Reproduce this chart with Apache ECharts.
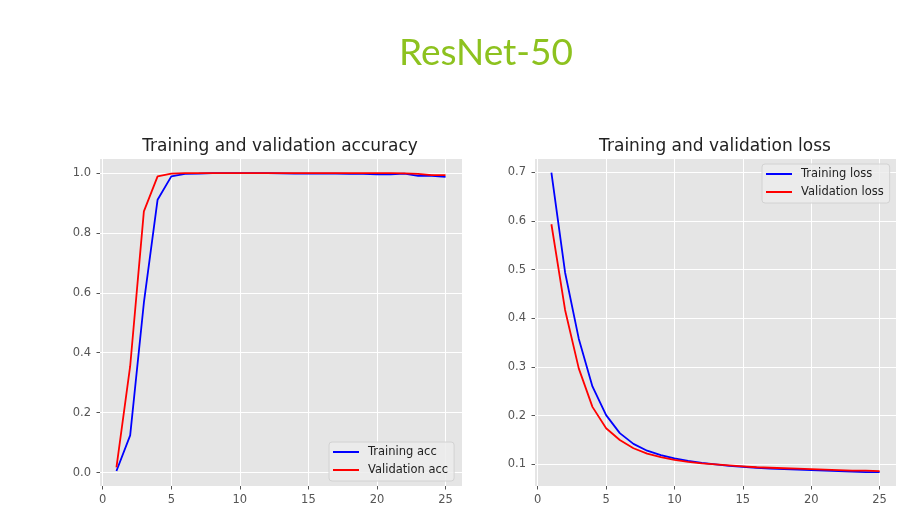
<!DOCTYPE html>
<html>
<head>
<meta charset="utf-8">
<script src="https://cdn.jsdelivr.net/npm/echarts@6/dist/echarts.min.js"></script>
<style>
  html, body { margin: 0; padding: 0; background: #fff; }
  #main { width: 923px; height: 513px; }
</style>
</head>
<body>
<div id="main"></div>
<script>
// epochs 1..25
var epochs = [1, 2, 3, 4, 5, 6, 7, 8, 9, 10, 11, 12, 13, 14, 15, 16, 17, 18, 19, 20, 21, 22, 23, 24, 25];
var trainAcc = [0.005, 0.124, 0.567, 0.911, 0.989, 0.997, 0.998, 1.0, 1.0, 1.0, 1.0, 1.0, 0.999, 0.998, 0.998,
  0.998, 0.998, 0.997, 0.997, 0.996, 0.996, 0.998, 0.991, 0.991, 0.987];
var valAcc = [0.017, 0.355, 0.872, 0.989, 0.998, 1.0, 1.0, 1.0, 1.0, 1.0, 1.0, 1.0, 1.0, 1.0, 1.0,
  1.0, 1.0, 1.0, 1.0, 1.0, 1.0, 0.999, 0.997, 0.993, 0.993];
var trainLoss = [0.699, 0.494, 0.358, 0.260, 0.201, 0.164, 0.142, 0.128, 0.119, 0.112, 0.107, 0.103, 0.100, 0.097, 0.095,
  0.093, 0.091, 0.090, 0.089, 0.088, 0.087, 0.086, 0.085, 0.084, 0.084];
var valLoss = [0.593, 0.417, 0.297, 0.218, 0.174, 0.150, 0.133, 0.122, 0.115, 0.109, 0.105, 0.102, 0.100, 0.098, 0.096,
  0.094, 0.093, 0.092, 0.091, 0.090, 0.089, 0.088, 0.087, 0.087, 0.086];
var xTicks = [0, 5, 10, 15, 20, 25];
var accTicks = [0.0, 0.2, 0.4, 0.6, 0.8, 1.0];
var lossTicks = [0.1, 0.2, 0.3, 0.4, 0.5, 0.6, 0.7];

var chart = echarts.init(document.getElementById('main'));

function pairs(ys) {
  return epochs.map(function (e, i) { return [e, ys[i]]; });
}

// matplotlib ggplot-like axes
function xAxis(idx) {
  return {
    type: 'value', gridIndex: idx, min: -0.2, max: 26.2,
    axisLine: { show: false, onZero: false },
    axisTick: { show: true, customValues: xTicks, length: 3.5, lineStyle: { color: '#555' } },
    axisLabel: { customValues: xTicks, color: '#555', fontSize: 11.5, fontFamily: 'DejaVu Sans', margin: 8 },
    splitLine: { show: true, lineStyle: { color: '#fff', width: 1 } }
  };
}
function yAxis(idx, min, max, ticks) {
  return {
    type: 'value', gridIndex: idx, min: min, max: max,
    axisLine: { show: false, onZero: false },
    axisTick: { show: true, customValues: ticks, length: 3.5, lineStyle: { color: '#555' } },
    axisLabel: {
      customValues: ticks, color: '#555', fontSize: 11.5, fontFamily: 'DejaVu Sans', margin: 9,
      formatter: function (v) { return v.toFixed(1); }
    },
    splitLine: { show: true, lineStyle: { color: '#fff', width: 1 } }
  };
}

var legendStyle = {
  orient: 'vertical', icon: 'rect', itemWidth: 26, itemHeight: 2, itemGap: 4,
  padding: [3, 6, 4, 4],
  backgroundColor: 'rgba(236,236,236,0.85)', borderColor: '#d2d2d2', borderWidth: 1, borderRadius: 3,
  textStyle: { color: '#222', fontSize: 11.5, lineHeight: 14, fontFamily: 'DejaVu Sans', padding: [0, 0, 0, 4] }
};

var option = {
  backgroundColor: '#fff',
  animation: false,
  title: [
    { text: 'ResNet-50', left: 481, top: 30, textAlign: 'center',
      textStyle: { color: '#8dc21f', fontSize: 37, fontWeight: 'normal', fontFamily: 'Lato' } },
    { text: 'Training and validation accuracy', left: 275, top: 133, textAlign: 'center',
      textStyle: { color: '#222', fontSize: 17, fontWeight: 'normal', fontFamily: 'DejaVu Sans' } },
    { text: 'Training and validation loss', left: 710, top: 133, textAlign: 'center',
      textStyle: { color: '#222', fontSize: 17, fontWeight: 'normal', fontFamily: 'DejaVu Sans' } }
  ],
  legend: [
    Object.assign({ data: ['Training acc', 'Validation acc'], left: 329, top: 442 }, legendStyle),
    Object.assign({ data: ['Training loss', 'Validation loss'], left: 762, top: 164 }, legendStyle)
  ],
  grid: [
    { left: 100, top: 159, width: 362, height: 327, show: true, backgroundColor: '#e5e5e5', borderWidth: 0 },
    { left: 535, top: 159, width: 361, height: 327, show: true, backgroundColor: '#e5e5e5', borderWidth: 0 }
  ],
  xAxis: [xAxis(0), xAxis(1)],
  yAxis: [yAxis(0, -0.045, 1.047, accTicks), yAxis(1, 0.0555, 0.727, lossTicks)],
  series: [
    { name: 'Training acc', type: 'line', xAxisIndex: 0, yAxisIndex: 0, data: pairs(trainAcc),
      showSymbol: false, color: '#0000ff', lineStyle: { width: 1.8 } },
    { name: 'Validation acc', type: 'line', xAxisIndex: 0, yAxisIndex: 0, data: pairs(valAcc),
      showSymbol: false, color: '#ff0000', lineStyle: { width: 1.8 } },
    { name: 'Training loss', type: 'line', xAxisIndex: 1, yAxisIndex: 1, data: pairs(trainLoss),
      showSymbol: false, color: '#0000ff', lineStyle: { width: 1.8 } },
    { name: 'Validation loss', type: 'line', xAxisIndex: 1, yAxisIndex: 1, data: pairs(valLoss),
      showSymbol: false, color: '#ff0000', lineStyle: { width: 1.8 } }
  ]
};

chart.setOption(option);
</script>
</body>
</html>
